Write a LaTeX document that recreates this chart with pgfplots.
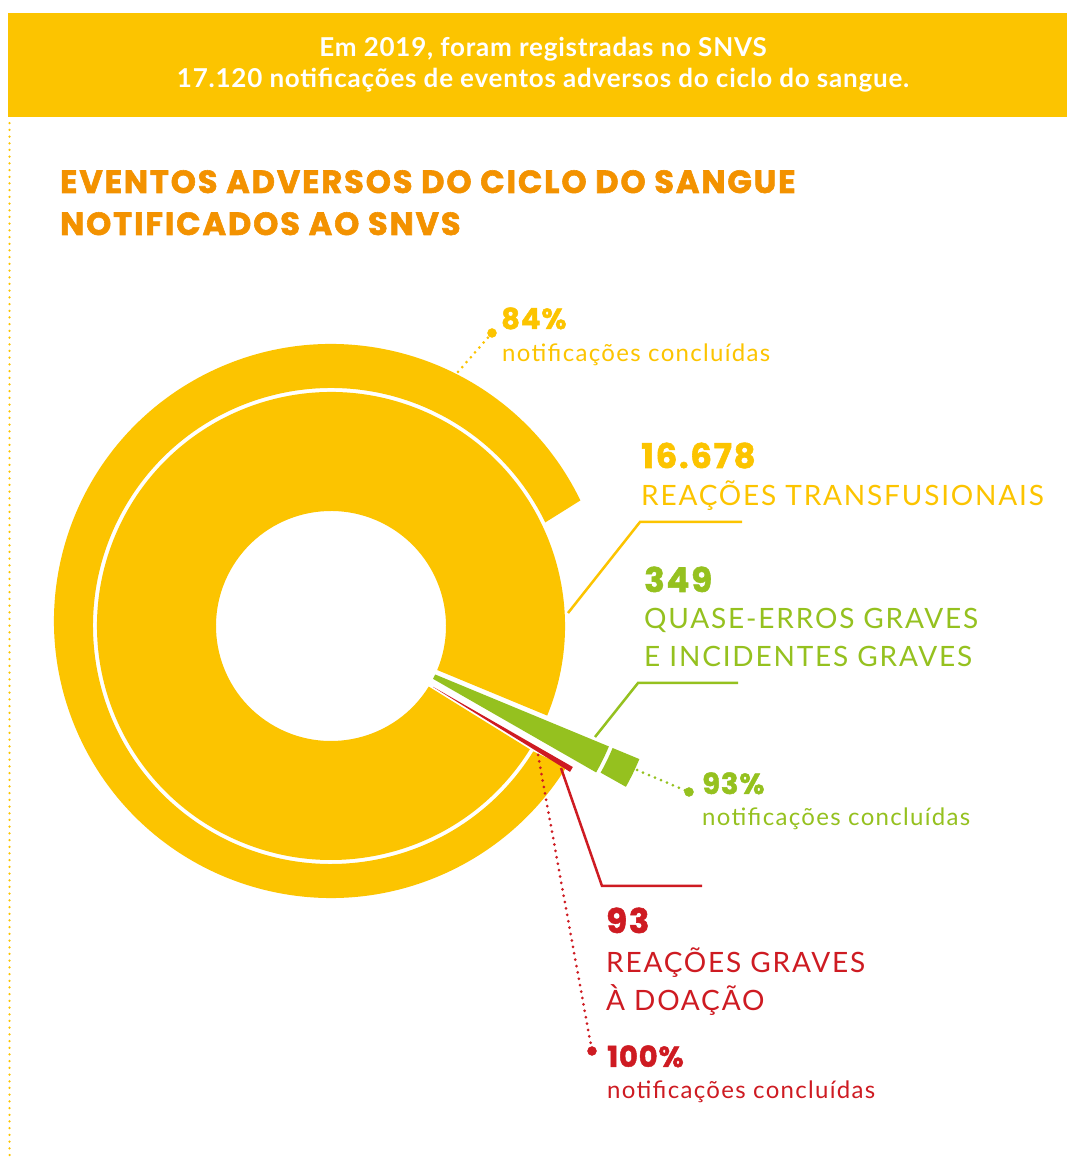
\documentclass[border=0pt]{standalone}
\usepackage{fontspec}
\setmainfont{Lato}
\newfontfamily\capsfont{Lato}[LetterSpace=6.5]
\newfontfamily\lowfont{Lato}[LetterSpace=5.5]
\newfontfamily\headfont{Lato}[LetterSpace=3]
\newfontfamily\titlefont{Poppins}[LetterSpace=6, BoldFeatures={FakeBold=1.8}]
\newfontfamily\numfont{Poppins}[LetterSpace=5, BoldFeatures={FakeBold=1.6}]
\newfontfamily\pctfont{Poppins}[LetterSpace=3, BoldFeatures={FakeBold=1.6}]
\usepackage{pgfplots}
\pgfplotsset{compat=1.18}
\usepackage{pgfplotstable}
\usetikzlibrary{calc}
\definecolor{yel}{RGB}{252,196,0}
\definecolor{ora}{RGB}{243,146,0}
\definecolor{grn}{RGB}{149,193,31}
\definecolor{rd}{RGB}{206,27,34}

\pgfplotstableread{
cat n pct
1 16678 84
2 349 93
3 93 100
}\evdata

% colour, cx, cy, angle from, angle to, inner r, outer r
\newcommand\sector[7]{%
  \fill[#1] ($(axis cs:#2,#3)+(#4:#7pt)$) arc[start angle=#4,end angle=#5,radius=#7pt]
    -- ($(axis cs:#2,#3)+(#5:#6pt)$) arc[start angle=#5,end angle=#4,radius=#6pt] -- cycle;}

\pgfplotstablegetelem{0}{n}\of\evdata\edef\nY{\pgfplotsretval}
\pgfplotstablegetelem{1}{n}\of\evdata\edef\nG{\pgfplotsretval}
\pgfplotstablegetelem{2}{n}\of\evdata\edef\nR{\pgfplotsretval}
\pgfplotstablegetelem{0}{pct}\of\evdata\edef\pY{\pgfplotsretval}
\pgfplotstablegetelem{1}{pct}\of\evdata\edef\pG{\pgfplotsretval}
\pgfplotstablegetelem{2}{pct}\of\evdata\edef\pR{\pgfplotsretval}
\def\sz{-31.8}
\edef\aY{\fpeval{round(360*\nY/(\nY+\nG+\nR),3)}}
\edef\aG{\fpeval{round(360*\nG/(\nY+\nG+\nR),3)}}
\edef\aR{\fpeval{round(360*\nR/(\nY+\nG+\nR),3)}}
\edef\yA{\fpeval{round(\sz-\aY,3)}}
\edef\yO{\fpeval{round(\sz-3.6*\pY,3)}}
\edef\rTop{\fpeval{round(\sz+\aR,3)}}
\edef\gTop{\fpeval{round(\sz+\aR+\aG,3)}}
\edef\gO{\fpeval{round(\gTop-\aG*\pG/100,3)}}
\edef\gMid{\fpeval{round(\rTop+\aG/2,3)}}
\edef\rMid{\fpeval{round(\sz+\aR/2,3)}}
\edef\gx{\fpeval{round(331+77*cosd(\gMid),3)}}
\edef\gy{\fpeval{round(531+77*sind(\gMid),3)}}
\edef\rx{\fpeval{round(331+116*cosd(\rMid),3)}}
\edef\ry{\fpeval{round(531+116*sind(\rMid),3)}}

\begin{document}%
\begin{tikzpicture}
\begin{axis}[x=1pt, y=1pt, xmin=0, xmax=1067, ymin=0, ymax=1157,
  hide axis, clip=false]
\fill[white] (axis cs:0,0) rectangle (axis cs:1067,1157);
% header band
\fill[yel] (axis cs:8,1040) rectangle (axis cs:1067,1144);
\addplot[yel, line width=2.5pt, line cap=round, dash pattern=on 0pt off 6.7pt]
  coordinates {(9.5,2) (9.5,1036)};
% donut: inner ring (share of notifications)
\sector{yel}{331}{531}{\yA}{\sz}{115}{234}
% outer ring (share concluded): outer edge slightly off-centre as in the original
\fill[yel] ($(axis cs:331,536)+(\yO:277pt)$) arc[start angle=\yO,end angle=\sz,radius=277pt]
  -- ($(axis cs:331,531)+(\sz:238pt)$) arc[start angle=\sz,end angle=\yO,radius=238pt] -- cycle;
\sector{grn}{\gx}{\gy}{\rTop}{\gTop}{38}{226}
\sector{grn}{\gx}{\gy}{\gO}{\gTop}{230}{259}
\sector{rd}{\rx}{\ry}{\sz}{\rTop}{3}{164}
% leader lines
\addplot[yel, line width=2.5pt] coordinates {(568,544) (640,635) (742,635)};
\addplot[grn, line width=2.5pt] coordinates {(595,420) (638,474) (738,474)};
\addplot[rd, line width=2.5pt] coordinates {(561,389) (602,271) (702,271)};
\addplot[yel, line width=3pt, line cap=round, dash pattern=on 0pt off 6.5pt] coordinates {(458,785) (492,824)};
\addplot[grn, line width=3pt, line cap=round, dash pattern=on 0pt off 6.5pt] coordinates {(637,387) (689,365)};
\addplot[rd, line width=3pt, line cap=round, dash pattern=on 0pt off 6.5pt] coordinates {(538,402) (592,106)};
\addplot[only marks, mark=*, mark size=4.5pt, yel] coordinates {(492,824)};
\addplot[only marks, mark=*, mark size=4.5pt, grn] coordinates {(689,365)};
\addplot[only marks, mark=*, mark size=4.5pt, rd] coordinates {(592,106)};
% texts
\node[anchor=base, inner sep=0, text=white, font=\headfont\bfseries\fontsize{26}{26}\selectfont] at (axis cs:543,1100) {Em 2019, foram registradas no SNVS};
\node[anchor=base, inner sep=0, text=white, font=\headfont\bfseries\fontsize{26}{26}\selectfont] at (axis cs:543,1069) {17.120 notificações de eventos adversos do ciclo do sangue.};
\node[anchor=base west, inner sep=0, text=ora, font=\titlefont\bfseries\fontsize{32}{32}\selectfont] at (axis cs:60,964) {EVENTOS ADVERSOS DO CICLO DO SANGUE};
\node[anchor=base west, inner sep=0, text=ora, font=\titlefont\bfseries\fontsize{32}{32}\selectfont] at (axis cs:60,922) {NOTIFICADOS AO SNVS};
% 84%
\node[anchor=base west, inner sep=0, text=yel, font=\pctfont\bfseries\fontsize{29}{29}\selectfont] at (axis cs:501,828) {84\%};
\node[anchor=base west, inner sep=0, text=yel, font=\lowfont\fontsize{24}{24}\selectfont] at (axis cs:502,795) {notificações concluídas};
% 16.678
\node[anchor=base west, inner sep=0, text=yel, font=\numfont\bfseries\fontsize{34}{34}\selectfont] at (axis cs:641,689) {16.678};
\node[anchor=base west, inner sep=0, text=yel, font=\capsfont\fontsize{28}{28}\selectfont] at (axis cs:641,651) {REAÇÕES TRANSFUSIONAIS};
% 349
\node[anchor=base west, inner sep=0, text=grn, font=\numfont\bfseries\fontsize{34}{34}\selectfont] at (axis cs:644,565) {349};
\node[anchor=base west, inner sep=0, text=grn, font=\capsfont\fontsize{28}{28}\selectfont] at (axis cs:644,528) {QUASE-ERROS GRAVES};
\node[anchor=base west, inner sep=0, text=grn, font=\capsfont\fontsize{28}{28}\selectfont] at (axis cs:644,490) {E INCIDENTES GRAVES};
% 93%
\node[anchor=base west, inner sep=0, text=grn, font=\pctfont\bfseries\fontsize{29}{29}\selectfont] at (axis cs:702,363) {93\%};
\node[anchor=base west, inner sep=0, text=grn, font=\lowfont\fontsize{24}{24}\selectfont] at (axis cs:702,331) {notificações concluídas};
% 93
\node[anchor=base west, inner sep=0, text=rd, font=\numfont\bfseries\fontsize{34}{34}\selectfont] at (axis cs:606,224) {93};
\node[anchor=base west, inner sep=0, text=rd, font=\capsfont\fontsize{28}{28}\selectfont] at (axis cs:606,184) {REAÇÕES GRAVES};
\node[anchor=base west, inner sep=0, text=rd, font=\capsfont\fontsize{28}{28}\selectfont] at (axis cs:606,146) {À DOAÇÃO};
% 100%
\node[anchor=base west, inner sep=0, text=rd, font=\pctfont\bfseries\fontsize{29}{29}\selectfont] at (axis cs:607,90) {100\%};
\node[anchor=base west, inner sep=0, text=rd, font=\lowfont\fontsize{24}{24}\selectfont] at (axis cs:607,58) {notificações concluídas};
\end{axis}
\end{tikzpicture}%
\end{document}
